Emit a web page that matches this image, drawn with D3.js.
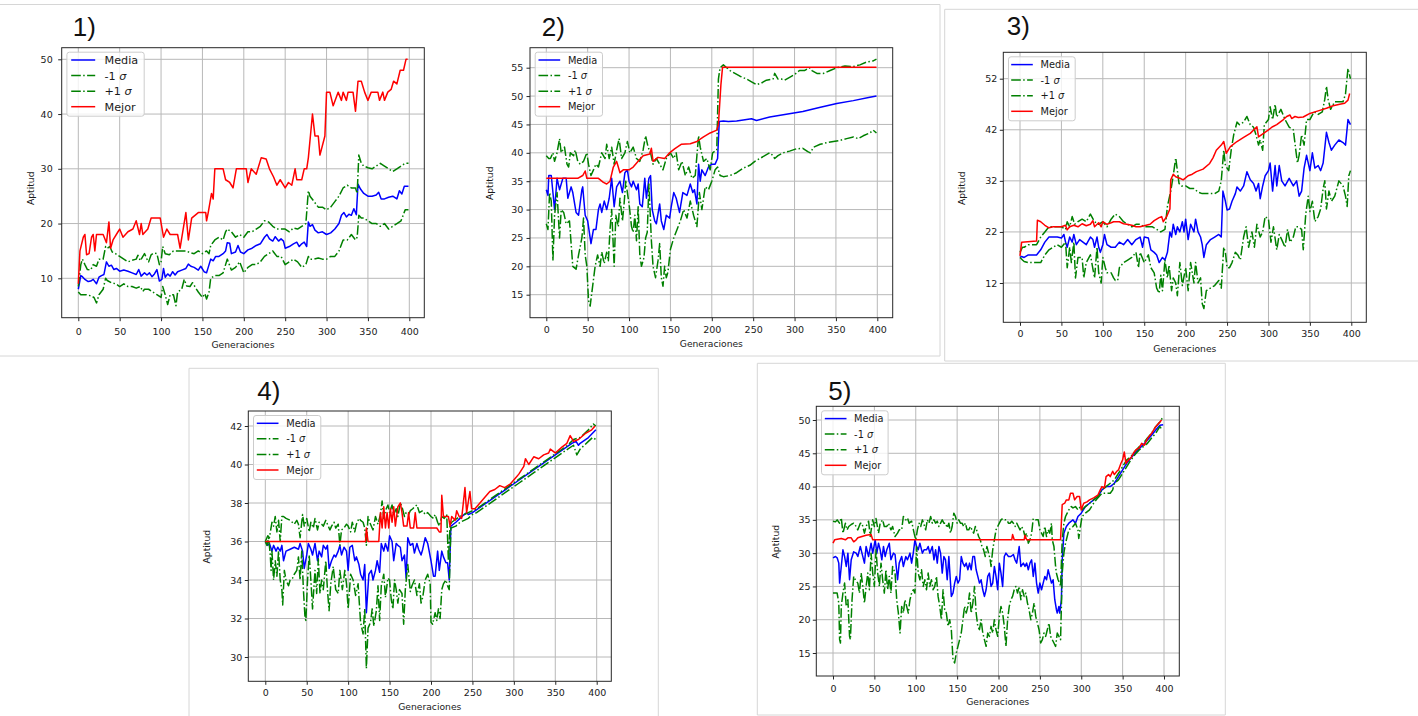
<!DOCTYPE html>
<html><head><meta charset="utf-8">
<script src="https://cdn.jsdelivr.net/npm/d3@7"></script>
<style>body{margin:0;background:#fff;}svg{display:block;}</style>
</head><body>
<svg id="chart" width="1418" height="716"></svg>
<script>
const genTicks = [0,50,100,150,200,250,300,350,400];
const legendLabels = [["Media",""],["-1 ","σ"],["+1 ","σ"],["Mejor",""]];

// ---------- Panel 1 ----------
const p1YTicks = [10,20,30,40,50];
const p1Media = [[0,8],[3,10.5],[5,10.3],[8,9.8],[12,9.4],[15,9.5],[18,9.8],[22,9],[25,10.2],[28,10.5],[31,10.7],[34,13],[37,12.2],[40,12.4],[43,11.6],[46,11.8],[50,11.3],[55,11.5],[60,11.3],[65,11],[70,10.7],[73,11.6],[76,10.4],[80,11],[83,10.6],[86,11],[89,10.3],[92,10.8],[95,11.6],[98,9.5],[101,9.8],[103,11.8],[105,10.2],[108,10.8],[111,10.4],[114,11.2],[117,10.6],[120,11.2],[125,11.5],[130,11.8],[133,12.6],[136,12.2],[140,12],[145,11.5],[148,12.2],[152,11.2],[155,11],[157,12],[160,13.5],[163,13.2],[166,14],[170,14],[175,14.5],[178,15],[180,16.5],[183,16.4],[185,14.5],[190,14.8],[193,16],[196,14.8],[200,14.5],[205,15.2],[210,15.5],[215,16],[220,16.3],[225,17.5],[228,18],[231,17.2],[235,16.8],[238,17.6],[242,16.8],[245,17.2],[248,16.8],[250,15.5],[255,15.8],[260,16.3],[264,16.6],[267,15.8],[270,16.3],[273,16.6],[276,15.8],[278,20.3],[280,19.5],[283,19.8],[286,18.8],[290,18.3],[295,18.5],[300,18],[305,18.3],[310,19],[315,20],[318,21.5],[321,22],[324,21.2],[327,21.7],[330,21.5],[333,22.7],[336,21.6],[338,27.2],[341,26.3],[345,25.5],[350,25],[355,25],[360,25.2],[363,25.7],[366,24.5],[370,24.5],[375,24.8],[380,25],[385,24.5],[388,26],[391,25.4],[394,26.8],[399,26.8]];
const p1Lo = [[0,7.5],[3,7],[6,7],[10,7],[15,6.8],[19,6.5],[22,5.5],[25,7],[30,8],[33,10],[35,9.6],[40,9.2],[45,9],[50,8.5],[55,9],[60,8.5],[65,8.5],[70,8.2],[75,8.5],[78,7.6],[80,8],[85,8],[90,7.5],[95,7],[100,6.5],[102,8.5],[105,7],[108,5.2],[111,7],[115,7],[118,5],[120,7.5],[125,8],[128,9.8],[131,8.6],[135,8.5],[138,9.2],[142,8.2],[145,7.5],[150,6.5],[153,7.2],[155,6.2],[158,7.5],[160,10],[165,10.5],[170,10.5],[175,11],[180,13.5],[185,11.5],[190,12],[195,13],[200,11],[205,12],[210,12.5],[215,12.5],[220,13],[225,14],[230,14.5],[235,15],[240,14],[245,14],[250,12.5],[255,13],[260,13.5],[265,13],[270,12],[275,12.5],[278,14],[280,13.5],[285,13.5],[290,13.7],[295,13.5],[300,13.5],[305,14],[310,14],[315,15],[320,17],[325,17],[330,18],[335,17],[337,17.5],[339,21.5],[342,21],[345,21],[350,20.5],[355,20],[360,20],[365,19.5],[370,20],[375,19],[380,19.5],[385,20],[390,20.5],[395,22.5],[399,22.5]];
const p1Hi = [[0,8.5],[3,12.5],[5,13.5],[8,12.5],[11,11.6],[15,11.5],[18,12.5],[22,12.2],[25,13.5],[30,13.5],[33,15.8],[35,15.5],[38,15.8],[41,14.8],[45,14.5],[50,14],[55,13.5],[60,13],[65,13.3],[70,13.5],[72,14.2],[75,13.2],[78,14],[80,14.5],[83,13.5],[85,13],[88,14.3],[91,14.6],[95,14.5],[98,12.5],[100,13],[102,15.8],[105,14.5],[110,14.3],[115,15],[120,15],[125,15],[130,15],[135,14.7],[140,14.5],[145,15],[150,14.5],[155,15],[158,14.5],[160,16],[165,17],[170,17.5],[175,17],[178,18.5],[180,19],[185,18.5],[190,17.5],[195,18],[200,17.5],[205,18.5],[210,18.5],[215,19],[220,19.5],[225,20.5],[230,20.3],[235,19.5],[240,19],[245,19],[250,19],[255,18.5],[260,19.2],[265,19],[270,19.5],[275,20],[278,26],[280,25],[285,24],[290,23],[295,23],[300,22.5],[305,23],[310,24],[315,25],[320,26.5],[325,27],[330,26.5],[335,26.5],[337,25.5],[339,32.5],[342,31],[345,30.5],[350,30.2],[355,30],[360,30.5],[365,31],[370,30.5],[375,30],[380,29.5],[385,30],[390,30.5],[395,31],[399,31]];
const p1Best = [[0,9],[2,15],[6,17.5],[8,18],[10,14.3],[13,14.5],[16,17.5],[18,18],[20,15],[22,18],[30,18],[34,16.5],[37,20.3],[39,15.5],[42,17],[48,18.5],[50,19],[54,17.5],[60,18.5],[66,19],[70,20.5],[74,18],[76,20],[78,18],[84,19],[88,21],[95,21],[99,21],[103,17.5],[107,19],[111,18],[120,18],[123,15.5],[130,22],[133,17],[137,21],[145,22],[154,22],[155,20.5],[157,22],[161,25.5],[163,24.5],[165,30],[175,30],[178,28],[183,27.5],[187,26.5],[191,30],[203,30],[205,27.5],[209,30],[215,29],[221,32],[227,31.8],[231,30],[236,28.5],[240,27],[244,28],[250,26.5],[254,27.5],[258,27],[262,30],[264,28],[270,28],[273,30],[276,30],[278,32],[283,40],[286,36],[290,36],[292,32.5],[298,36],[300,44],[304,44],[308,41.5],[314,44],[318,42.5],[320,44],[324,42.5],[326,44],[332,44],[335,40.5],[338,46],[342,46],[346,44],[350,42.5],[354,44],[362,44],[364,42.5],[368,44],[370,42.5],[374,44],[378,44.5],[381,46],[385,45.5],[389,48],[393,48],[396,50],[398,50]];

// ---------- Panel 2 ----------
const p2YTicks = [15,20,25,30,35,40,45,50,55];
const p2Media = [[0,33.5],[2,32.5],[3,36],[6,36],[8,33],[10,30],[13,35.5],[16,33.5],[20,35.5],[24,35.5],[26,32],[30,34],[32,33],[36,29.5],[39,29],[43,33.5],[44,34],[47,29],[50,28],[54,24],[57,26.5],[60,26.5],[63,30],[65,31],[67,29.5],[70,31.5],[73,30],[76,32],[79,35.5],[82,30.5],[85,34],[89,35],[92,33],[95,36.5],[98,37],[100,35],[103,34],[105,35],[109,33.5],[111,34.5],[113,31],[116,30.5],[119,35.5],[121,32],[124,35.5],[126,36],[128,30],[131,28],[133,27.5],[137,31],[139,28],[142,26.5],[145,29],[149,28.5],[151,30.5],[154,33],[157,32],[161,29.5],[165,33],[170,32.5],[174,34.5],[177,33],[179,33.5],[182,31],[184,38],[186,35],[188,37],[192,36],[196,37.5],[200,38],[204,38],[207,39],[209,45.5],[214,45.6],[220,45.5],[230,45.6],[248,46],[254,45.7],[270,46.3],[290,46.8],[310,47.3],[330,48],[351,48.7],[371,49.2],[391,49.8],[399,50]];
const p2Lo = [[0,27.5],[2,26.5],[4,33],[6,31.5],[8,21],[10,29],[13,33],[16,25],[18,30],[21,29.5],[24,27.5],[28,28],[32,20],[36,19.5],[39,22],[43,25],[45,28.5],[47,22],[49,20],[51,14],[53,13],[56,16.5],[59,20],[62,22],[65,20],[67,22.5],[70,20.5],[73,22.5],[75,21],[77,26.5],[79,30],[82,20],[84,29],[87,27],[89,32],[92,28],[94,31],[96,35],[100,31],[103,27],[105,26],[107,29],[109,24.5],[111,30.5],[113,22],[115,20],[118,21.5],[120,25],[122,26],[124,34.5],[127,24.5],[129,20],[132,18],[135,21],[137,24],[139,18],[141,16.5],[143,20],[145,18],[147,19],[150,23],[154,25],[158,26.5],[162,28],[166,30],[170,28.5],[174,31.5],[178,29],[182,27],[185,33],[188,30],[192,34],[196,33.5],[200,35],[204,37],[207,37.5],[210,36],[214,35.8],[222,36],[230,36.5],[238,37.3],[246,37.8],[252,38.5],[258,39],[264,39.5],[270,40],[274,39.5],[276,39],[280,39.5],[286,40],[294,40.3],[302,40.7],[310,40.8],[316,40.2],[319,40],[323,41],[331,41.5],[339,41.8],[347,42],[355,42.2],[363,42.5],[371,42.8],[377,42.5],[383,43],[391,43.5],[395,44],[399,43.5]];
const p2Hi = [[0,39.5],[3,39],[5,39],[8,40],[10,38.5],[13,40],[16,42.5],[18,40],[22,41],[25,38],[27,37.5],[29,40],[33,39.5],[35,40.5],[38,38.5],[41,38],[45,38.5],[49,40],[51,38],[54,36],[57,37],[60,38],[63,37.5],[67,40],[71,39],[73,41.5],[76,39],[79,41],[82,38],[85,40.5],[88,42.5],[91,39],[95,40],[98,42],[101,40],[105,41],[109,39],[113,38.5],[117,40.5],[120,43],[123,41],[126,40],[129,38],[133,39],[137,38],[141,37],[145,39],[150,40],[154,39],[157,40],[160,37],[164,38.5],[168,36],[172,37.5],[176,35.5],[180,36],[184,43],[186,41],[190,38.5],[194,39],[198,37],[201,40],[206,40.5],[208,53],[210,55],[214,55.5],[218,55],[222,54.5],[228,54],[234,53.5],[242,53],[248,52.5],[254,52],[260,52.3],[266,52.8],[274,53],[276,54],[280,53],[284,53],[288,52.8],[294,53.3],[300,53.8],[306,54.5],[312,54.5],[318,55],[321,54.5],[327,54],[335,54],[343,54.5],[351,55],[361,55.3],[371,55.2],[379,55.5],[387,56],[395,56.2],[399,56.5]];
const p2Best = [[0,35.5],[38,35.5],[44,36],[47,36.8],[49,35.5],[63,35.5],[69,34.8],[73,34.5],[77,35],[81,37.5],[85,38.5],[87,37.5],[89,36.5],[93,37],[100,37],[105,37.5],[111,38.5],[117,39.5],[125,39.8],[127,40.8],[129,38.5],[135,39.2],[143,39],[149,40],[155,40.7],[163,41.5],[174,41.6],[182,42],[190,42.8],[198,43.5],[206,44],[208,45],[211,52],[213,55.1],[399,55.1]];

// ---------- Panel 3 ----------
const p3YTicks = [12,22,32,42,52];
const p3Media = [[0,17],[2,17.2],[5,17],[10,17.5],[20,17.5],[25,18.5],[30,20],[35,21],[40,21],[45,21],[50,20.8],[53,21.5],[55,20],[57,19],[60,21],[63,20],[65,21.5],[68,19.5],[72,20.5],[76,20],[80,19.5],[85,21],[88,20.5],[90,19],[93,21],[95,19],[97,18],[100,19.5],[102,21.5],[105,19.5],[110,19],[115,19],[120,20],[125,19.5],[130,20.5],[135,19.5],[140,20.5],[145,21],[148,19],[150,21],[155,20.8],[158,18.5],[162,18],[165,17.5],[168,16],[172,17],[175,16.5],[178,18],[181,22],[183,21],[185,23.5],[188,21.5],[190,23],[193,22],[196,24],[198,22],[200,24.5],[203,20.5],[206,23.5],[210,22],[212,24.5],[215,22],[218,21],[220,19.5],[222,17],[225,19.5],[230,20.5],[235,21],[240,21.5],[243,21],[245,30],[248,28],[250,26.3],[253,26.5],[256,28],[260,29.5],[262,30.8],[266,30],[270,31],[274,33.8],[278,32.2],[282,31.5],[285,30],[288,31.5],[290,28.5],[293,31],[296,33],[300,34],[302,35.5],[305,30],[308,35],[310,31],[313,35],[316,32],[320,31],[325,32.5],[330,31],[334,32],[337,29],[340,30],[343,34.5],[346,37],[350,34],[353,37.5],[356,34.5],[360,35],[363,34],[366,35.5],[370,41.5],[373,39.5],[376,38],[380,39],[385,40],[390,39.5],[393,39],[396,44],[399,43]];
const p3Lo = [[0,17],[3,16.5],[5,16.2],[10,16],[15,16],[20,16],[25,16],[30,17.5],[35,18.5],[40,19],[45,19.5],[50,19],[55,20],[57,15],[60,19],[62,16],[65,20],[67,13],[70,17],[75,17],[77,13],[80,16],[85,17.5],[90,13],[93,19],[95,14],[98,12],[100,17],[103,15],[105,14],[110,14],[113,13],[115,12.5],[118,12.5],[120,15],[125,16],[130,16.5],[135,17],[140,18],[143,15],[145,18],[150,16],[155,17.5],[158,15],[162,14],[165,11],[168,10],[170,13.5],[172,10.5],[175,16.5],[178,13],[180,15.5],[183,10.5],[185,13],[188,12],[190,9.5],[193,16],[196,11.5],[200,15],[203,10.5],[206,16],[210,12],[212,16],[215,12],[218,13],[220,8],[222,7],[225,10.5],[230,11],[235,11.5],[240,12.5],[243,11],[246,19],[248,18],[250,15],[253,15],[256,16],[260,18],[263,17.5],[266,16.5],[270,21],[273,23],[276,19],[280,22],[283,19],[286,23.5],[290,21],[293,22],[296,25],[300,24.5],[303,20],[306,23],[310,18.5],[313,21.5],[316,20.5],[320,19],[323,22.5],[326,20],[330,21],[333,23],[336,23],[340,22.5],[342,18.5],[345,25.5],[348,29],[350,26],[353,28],[356,24],[360,25],[363,26.5],[366,30.5],[368,32],[370,26.5],[373,30],[376,28],[380,29],[385,32],[390,31],[393,29],[395,27],[397,33],[399,34]];
const p3Hi = [[0,18],[3,19],[5,19],[10,19.5],[20,19.5],[25,21],[30,22],[35,23],[40,23],[50,23],[55,22.5],[57,24],[60,23],[63,25],[66,23.5],[70,24],[75,24.5],[80,24],[85,25.5],[90,24],[95,23.5],[100,24],[105,23],[110,24.5],[115,25.5],[120,25],[125,24],[130,23.5],[135,23],[140,23.5],[145,23.5],[150,23],[155,23],[160,23],[165,22.5],[170,22],[175,22.5],[178,27],[182,30],[185,33],[188,36.5],[190,34],[192,31.5],[195,31],[200,31],[205,30.5],[210,30.5],[215,29.8],[220,29.5],[225,29.5],[230,29.5],[235,29.5],[240,30],[243,32],[246,38],[248,35],[252,34],[255,38],[258,41],[262,43.5],[265,43],[270,43.5],[274,44.6],[278,43],[282,42.5],[285,41],[288,39],[290,40],[293,38],[295,43],[300,44],[302,46.5],[305,44],[308,47],[310,44.5],[315,46],[320,44],[325,42.5],[330,42],[333,38],[335,35.5],[337,37],[340,41],[343,39],[346,44],[350,44],[355,45.5],[360,45],[365,45.5],[368,48],[370,50.5],[372,48],[375,46],[380,47.5],[385,47.5],[390,47.5],[393,49],[396,54],[399,52]];
const p3Best = [[0,17.3],[2,20],[20,20.2],[21,24.3],[25,24],[30,23.3],[35,22.8],[40,23],[50,23],[55,23.3],[57,22.4],[60,23],[65,23.3],[70,23],[75,23.6],[80,23.2],[85,23.5],[88,24.2],[90,23],[95,23.8],[98,23],[100,24],[105,23.5],[110,23.8],[113,24],[120,24],[125,23.6],[129,23.5],[135,23.3],[140,23],[145,23],[150,23.2],[157,23.5],[162,24.2],[165,24.5],[168,24.8],[171,25],[173,24],[177,25],[181,26.5],[182,32.2],[185,33.3],[188,32.8],[193,32.5],[197,32.2],[203,33],[208,33.3],[213,33.8],[221,34.3],[229,35.4],[233,36.5],[237,38],[243,39],[246,39.7],[249,37.4],[254,38.7],[262,39.7],[270,40.5],[278,41.3],[286,42.6],[288,40.6],[294,41.3],[300,42],[305,42.6],[310,43],[314,43.5],[318,44],[322,44.6],[326,44.9],[328,44.2],[332,44.6],[336,44.4],[342,44.5],[350,45.2],[356,45.5],[362,45.8],[370,46.2],[378,46.7],[386,47],[392,47.2],[396,47.8],[398,49.1]];

// ---------- Panel 4 ----------
const p4YTicks = [30,32,34,36,38,40,42];
const p4Media = [[0,36],[3,35.8],[5,35.9],[8,35.5],[10,35.8],[13,35.5],[15,35.7],[18,35.5],[20,35.8],[22,35],[25,35.5],[30,35.6],[35,35.7],[40,35.6],[42,35.9],[45,35.5],[47,34.6],[50,35.3],[52,35.9],[55,35.6],[57,35.3],[60,35.9],[63,35],[65,35.5],[68,35.2],[70,35.8],[73,35.6],[75,35.8],[77,34.6],[80,35],[83,35.3],[85,35.2],[88,35.5],[90,35.8],[92,35.3],[95,35.7],[98,35.5],[100,34.5],[102,35.7],[105,35.8],[108,35],[110,35.2],[113,34.8],[115,34.3],[118,34],[120,34.8],[122,32.3],[125,34.3],[128,34.5],[130,34],[133,34.5],[135,35],[138,34.4],[140,35.9],[143,35.5],[145,35.9],[148,35.5],[150,36.3],[153,36],[155,35],[158,35.9],[160,35.8],[163,35.7],[165,35],[168,35.3],[170,34.1],[172,36.2],[175,35.8],[178,35.9],[180,35.4],[183,35.9],[185,35.6],[188,35.3],[190,35.6],[193,36.2],[196,35.9],[200,35],[203,34.2],[205,34.2],[208,35.5],[210,34.5],[213,35.5],[215,35.2],[218,34.9],[220,34.9],[222,34],[224,36.8],[230,37],[235,37.2],[240,37.4],[243,37.5],[245,37.4],[250,37.5],[260,37.8],[270,38.1],[280,38.4],[290,38.7],[300,39],[310,39.3],[320,39.6],[330,39.9],[340,40.2],[350,40.5],[360,40.8],[370,41.1],[375,41.2],[378,41],[380,41.1],[390,41.4],[399,41.8]];
const p4Lo = [[0,36],[2,35.8],[4,36.2],[6,35.3],[7,34.5],[8,35.5],[10,34],[12,35],[14,34.2],[16,35.5],[18,34],[20,33.5],[21,32.7],[23,34.5],[25,34],[28,33.7],[30,34],[33,34.1],[35,34.3],[38,34.5],[40,35.2],[42,34],[44,35.5],[46,33.5],[48,32],[49,31.9],[51,34],[53,35.3],[55,34],[57,32.5],[60,34.5],[62,33.3],[64,35.1],[66,33.3],[68,34],[70,33.5],[73,35],[75,33.5],[77,32.4],[79,33.8],[82,34.7],[85,33.5],[88,33.3],[90,34.5],[93,33.5],[96,34.5],[98,33.8],[100,32.5],[103,34.3],[106,34],[109,33.2],[112,33.8],[115,31.8],[118,31.2],[120,32.5],[122,29.4],[124,31.5],[127,31.8],[129,32.5],[131,31.6],[134,32.4],[136,33.7],[138,31.9],[140,33.7],[143,34.3],[145,33.1],[148,34.1],[150,34],[152,33],[154,32.5],[156,34],[158,33.5],[160,32.8],[162,33.5],[165,33.3],[167,31.7],[169,33.5],[172,34.8],[175,33.4],[177,33.7],[180,34],[183,33.2],[186,33.8],[188,32.8],[190,33.1],[193,34],[196,34.3],[199,33.8],[200,31.8],[202,31.7],[205,32.3],[207,31.9],[209,32.5],[211,32],[213,33.5],[215,33.8],[218,34],[220,33.7],[222,33.5],[224,36.7],[230,36.8],[235,37],[240,37.1],[245,37.2],[250,37.4],[255,37.5],[265,37.8],[275,38.1],[285,38.4],[295,38.7],[305,39],[315,39.3],[325,39.6],[335,39.9],[345,40.2],[355,40.5],[365,40.8],[372,41],[376,40.5],[380,40.8],[390,41.2],[395,41.4],[399,41.3]];
const p4Hi = [[0,36],[3,36.3],[5,36.2],[8,37],[10,36.8],[12,37.3],[14,36.5],[16,37.1],[18,36],[20,37.3],[22,37.3],[25,37.2],[30,37.1],[35,36.9],[38,37.1],[40,36.9],[42,36.2],[45,37.4],[47,36.8],[50,37.2],[53,36.5],[55,37],[58,36.7],[60,37.2],[63,36.6],[65,37],[68,36.9],[70,36.8],[73,37.1],[75,36.9],[78,36.6],[80,36.8],[83,37],[85,36.7],[88,36.9],[90,35.8],[92,36.6],[95,36.7],[98,36.9],[100,36.8],[103,36.5],[105,37],[108,36.5],[110,36.9],[113,37.2],[115,37.1],[118,37],[120,36.7],[122,35.8],[124,37.3],[126,37],[130,36.6],[133,37.3],[136,36.9],[139,37.4],[141,38.1],[143,37.2],[145,37.6],[148,37.9],[150,37.5],[153,37.9],[155,37.4],[158,37.7],[160,37.3],[163,38],[165,37.8],[168,37.3],[170,37.5],[173,37.4],[175,37.6],[178,37.7],[180,37.8],[183,37.9],[186,37.5],[190,37.6],[193,37.4],[196,37.5],[200,37.3],[203,37.2],[205,37.4],[208,37],[210,36.8],[213,37.3],[216,37.2],[219,37.4],[221,35],[223,36.8],[225,37],[235,37.3],[245,37.5],[255,37.7],[265,38],[275,38.3],[285,38.6],[295,38.9],[305,39.2],[315,39.5],[325,39.8],[335,40.1],[345,40.4],[355,40.7],[365,41],[372,41.3],[380,41.4],[390,41.8],[396,42.1],[399,42]];
const p4Best = [[0,36],[121,36],[122,36.7],[124,36],[137,36],[139,37.5],[141,36.7],[143,37.8],[145,36.7],[147,37.5],[149,36.7],[151,37.7],[153,37],[155,37.8],[157,36.8],[160,37.8],[163,38],[165,37.5],[167,36.8],[171,36.8],[173,37.5],[175,36.7],[179,36.7],[181,37.5],[183,36.7],[207,36.7],[210,36.5],[212,36.5],[213,38.4],[215,37.3],[221,37.3],[223,36.8],[225,37.3],[229,37.1],[231,37.6],[234,37.3],[237,37.2],[241,38.8],[243,37.5],[247,38.6],[249,37.7],[253,37.7],[257,37.9],[265,38.3],[271,38.6],[277,38.7],[283,38.9],[289,38.8],[296,39],[302,39.3],[306,39.5],[312,39.9],[314,40.3],[318,40],[324,40.4],[330,40.3],[336,40.5],[342,40.6],[344,40.8],[350,40.6],[358,40.9],[364,41.1],[368,41.5],[372,41.2],[378,41.3],[386,41.6],[394,41.8],[398,42]];

// ---------- Panel 5 ----------
const p5YTicks = [15,20,25,30,35,40,45,50];
const p5Media = [[0,29.3],[3,29.5],[5,29.3],[7,28.5],[8,25.5],[10,28],[12,30.5],[14,29.5],[16,28],[18,30],[20,26],[22,29],[25,30.2],[28,30],[30,29.5],[33,31],[35,30],[38,28.5],[40,31],[43,29.5],[46,31.5],[48,30],[51,32],[53,30],[55,31.5],[57,30.5],[59,29],[61,31],[63,29.5],[65,30.5],[68,31.5],[70,29],[73,30],[75,29.8],[78,26],[80,28.5],[83,29.5],[85,28],[88,29.5],[90,29],[93,30],[95,28.5],[97,30],[99,32],[101,31],[103,30.5],[105,31.5],[108,30],[110,30.5],[113,30.5],[115,31],[117,30],[120,31],[122,29],[124,30.5],[126,28.5],[128,31],[130,30],[132,27],[134,29.5],[136,29],[138,26],[140,29.5],[142,25.5],[143,23.5],[145,24],[147,25.5],[149,26.5],[151,25.5],[153,26],[155,29.5],[157,28.5],[159,28],[161,28.5],[163,27.5],[165,28.5],[167,27.5],[169,29.5],[171,29.5],[173,27.5],[175,26.5],[177,25.5],[179,26],[181,24.5],[183,23.5],[185,24.5],[187,26.5],[189,27],[191,25],[193,25.5],[195,28],[197,26.5],[199,24.5],[201,28.5],[203,27],[205,25],[207,29.5],[209,30],[212,29.5],[215,29.5],[218,29.8],[220,29],[222,28.5],[225,31],[227,28],[230,28.5],[232,28],[234,28.5],[236,27.5],[238,28.5],[240,29],[242,26.5],[244,28.5],[246,25.5],[248,24],[250,25.5],[252,24.5],[254,25.5],[256,26.5],[258,26],[260,27.5],[262,26.5],[264,25.5],[266,26],[268,23],[270,21.5],[271,21],[273,22],[274,21],[276,23],[277,29],[279,33],[282,34],[285,34.5],[290,35],[293,34.5],[296,35.5],[300,36],[305,37],[310,37.5],[315,38],[320,38.5],[325,39.5],[330,40],[335,40],[340,40.5],[345,41.5],[350,42.5],[355,43.5],[360,44.3],[365,45],[370,45.7],[375,46.3],[380,47],[385,47.7],[390,48.5],[395,49.2],[399,49.3]];
const p5Lo = [[0,24],[3,24],[5,24],[7,22.5],[8,17],[9,16.5],[10,22],[12,24],[14,25.5],[16,22],[18,23],[20,17.5],[21,17],[23,23],[25,26.5],[27,26],[30,25.5],[32,24],[34,27],[36,25],[38,22.5],[40,25],[42,27],[44,24.5],[46,30],[48,27],[50,25],[52,30.5],[54,27],[56,25],[58,28.5],[60,26],[62,24],[64,27.5],[66,24.5],[68,26.5],[70,24],[72,28],[75,27],[77,23],[79,21],[81,18],[83,22],[85,21],[87,23],[89,22],[91,21],[93,23],[95,24],[97,24.5],[99,24],[101,31],[103,27],[105,26],[107,27.5],[109,25],[111,26],[113,24.5],[115,27],[117,25],[119,26],[121,24.5],[123,25],[125,26.5],[127,23.5],[129,22],[131,20],[133,24.5],[135,21.5],[137,21],[139,19],[141,20],[143,18.5],[145,14],[147,13.5],[149,15],[151,16],[153,17],[155,18],[157,20],[159,22],[161,21],[163,22],[165,24],[167,21],[169,22.5],[171,25],[173,21],[175,19],[177,18.5],[179,20],[181,18],[183,17],[185,16],[187,18],[189,17.5],[191,19],[193,18],[195,20],[197,18.5],[199,17.5],[201,20.5],[203,22],[205,21],[207,19],[209,16],[211,20],[213,22],[215,23],[217,23.5],[219,24.5],[221,25],[223,24],[225,25],[227,23],[229,24.5],[231,23.5],[233,24],[235,22.5],[237,21.5],[239,20],[241,21],[243,22.5],[245,20.5],[247,19.5],[249,18.5],[251,16.5],[253,17],[255,18],[257,17.5],[259,18.5],[261,19.5],[263,17.5],[265,17],[267,16.5],[269,16],[271,18],[273,17.5],[275,17],[277,27],[279,30],[281,31.5],[283,32.5],[285,33.5],[288,33.8],[290,34],[293,34.5],[296,33.5],[297,32.2],[299,34],[301,35.5],[305,36],[310,36.5],[315,37.5],[320,38.3],[325,39],[330,39],[335,39],[338,39.5],[340,40.5],[345,41],[350,42],[355,43],[360,44],[365,44.8],[370,45.5],[375,46],[380,46.5],[385,47.3],[390,48],[395,49],[398,48.5]];
const p5Hi = [[0,34.8],[3,34.7],[5,35],[8,34.5],[10,35.3],[12,33],[15,34.5],[17,33.5],[19,34],[22,34.3],[25,34.5],[28,34],[30,33.5],[33,34.5],[35,34.5],[38,33],[40,34],[43,34.8],[45,32.5],[48,35],[50,34],[52,35.2],[55,33],[57,34.5],[60,35],[62,34],[65,34],[67,34.5],[70,33.5],[72,34],[75,32.5],[78,33],[80,33.5],[83,33.5],[85,35.5],[88,35],[90,35.3],[92,34.5],[95,34.8],[98,33],[100,32],[102,33.5],[104,34.5],[106,34],[108,35],[110,34.3],[112,33.5],[114,35],[116,34.5],[118,35.5],[120,34.5],[122,35],[124,34.5],[126,34.8],[128,34],[130,34.5],[132,35],[134,34.5],[136,34.5],[138,33.8],[140,34.5],[142,33],[144,34],[146,36],[148,35.5],[150,34.5],[152,35],[154,34.5],[156,34.5],[158,34],[160,34.5],[162,33.5],[164,33.5],[166,34],[168,33.5],[170,33],[172,34],[174,33.3],[176,32.5],[178,32],[180,31],[182,30.5],[184,29.5],[186,31],[188,30],[190,29],[191,28],[193,30.5],[195,32],[197,33.5],[199,34],[201,34.5],[203,35],[205,35.2],[208,35],[210,35],[212,34.5],[214,34.5],[216,34.8],[218,34.5],[220,34],[222,34.5],[224,34],[226,33.5],[228,34],[230,33.5],[232,32.5],[234,33],[236,31.5],[238,32],[240,33],[242,35.2],[245,35],[248,35],[250,33.5],[252,33],[254,32.5],[256,34],[258,32.5],[260,33.5],[262,33],[264,34.5],[265,32],[267,31],[269,28],[270,27],[272,26],[274,25.5],[275,25],[277,32],[279,34.5],[281,35.5],[283,36],[285,36.5],[288,37],[290,36.8],[293,37],[296,36.5],[299,37],[301,36.5],[305,37],[310,37.5],[315,38],[320,38.5],[325,39.5],[330,40],[335,40.5],[340,41],[345,42],[350,43],[355,44],[360,44.5],[365,45.3],[370,46],[375,46.5],[380,47.3],[385,48],[390,49],[395,49.7],[398,50.3]];
const p5Best = [[0,31.5],[2,32],[10,32.2],[15,32],[18,32.3],[22,32.3],[25,31.7],[28,32],[30,32.3],[35,32.5],[40,32.7],[46,32.8],[48,32],[216,32],[217,32.8],[219,32],[231,32],[232,32.7],[234,32],[275,32],[277,37.3],[280,37.5],[282,38],[285,38],[287,39],[290,39],[292,38],[295,38.5],[298,38.5],[300,36.5],[303,37.5],[307,37.7],[310,38],[315,38.3],[320,38.7],[323,39.5],[325,40],[328,39.8],[330,41.5],[333,41.8],[335,41.5],[338,42.3],[340,41.8],[343,42.3],[345,42.5],[348,43.5],[350,44],[352,45.2],[354,43.5],[357,44],[360,44.3],[363,45],[366,45.5],[370,45.8],[373,46.5],[376,46.2],[380,47.2],[385,48],[390,49],[395,49.7],[397,50]];

// ---------- layout (positions only) ----------
const panels = [
  {label:"1)", lx:72.7, ly:36, media:p1Media, lo:p1Lo, hi:p1Hi, best:p1Best, yTicks:p1YTicks,
   box:{l:61.7,r:424.3,t:47.7,b:317.7}, xr:[78.3,409.3], yd:[10,50], yr:[278.3,59.3],
   xPad:7, yPad:5.5, xlab:30.6, ylabX:34, ylabY:188.3, leg:{w:77.3, fs:11.2, tx:37.6, sx:[4.3,28.3]}},
  {label:"2)", lx:541.7, ly:36, media:p2Media, lo:p2Lo, hi:p2Hi, best:p2Best, yTicks:p2YTicks,
   box:{l:530,r:892.7,t:47.7,b:317.7}, xr:[546.3,877.3], yd:[15,55], yr:[294.7,67.7],
   xPad:5.5, yPad:3.2, xlab:29.6, ylabX:492.5, ylabY:183.3, leg:{w:67.3, fs:9.8, tx:32.7, sx:[3.3,25]}},
  {label:"3)", lx:1006.7, ly:35.3, media:p3Media, lo:p3Lo, hi:p3Hi, best:p3Best, yTicks:p3YTicks,
   box:{l:1003.3,r:1366.3,t:52.3,b:322.3}, xr:[1020,1351.3], yd:[12,52], yr:[283,78.7],
   xPad:4.2, yPad:2.5, xlab:29.4, ylabX:965, ylabY:188.3, leg:{w:66.7, fs:9.8, tx:32, sx:[2.7,24.3]}},
  {label:"4)", lx:257.3, ly:400.3, media:p4Media, lo:p4Lo, hi:p4Hi, best:p4Best, yTicks:p4YTicks,
   box:{l:248.3,r:611.3,t:411,b:681.3}, xr:[265.3,596.7], yd:[30,42], yr:[657,426],
   xPad:4.2, yPad:2.5, xlab:28.7, ylabX:210, ylabY:546.7, leg:{w:67.3, fs:9.8, tx:32.7, sx:[3.3,25]}},
  {label:"5)", lx:828.3, ly:399.5, media:p5Media, lo:p5Lo, hi:p5Hi, best:p5Best, yTicks:p5YTicks,
   box:{l:816.3,r:1179.3,t:406.3,b:676}, xr:[833,1164], yd:[15,50], yr:[653,420],
   xPad:5.5, yPad:2.2, xlab:29, ylabX:778.5, ylabY:541.7, leg:{w:66.6, fs:9.8, tx:32.6, sx:[3.3,25]}}
];

const frameLines = [
  [0,4.5,940,4.5],[940,4.5,940,356],[0,356,940,356],
  [944.7,9.3,1418,9.3],[944.7,9.3,944.7,361],[944.7,361,1418,361],
  [189,368.3,658.3,368.3],[189,368.3,189,716],[658.3,368.3,658.3,716],
  [757.3,363.3,1225.3,363.3],[757.3,363.3,757.3,715],[1225.3,363.3,1225.3,715],[757.3,715,1225.3,715]
];

const svg = d3.select("#chart");
svg.append("rect").attr("width",1418).attr("height",716).attr("fill","#fff");
svg.append("g").selectAll("line").data(frameLines).join("line")
  .attr("x1",d=>d[0]).attr("y1",d=>d[1]).attr("x2",d=>d[2]).attr("y2",d=>d[3])
  .attr("stroke","#d6d6d6").attr("stroke-width",1);

const FONT = "'DejaVu Sans', sans-serif";
const DASH = "9.6,2.4,1.5,2.4";
const GREEN = "#008000";
const LW = 1.5;

panels.forEach(p => {
  const g = svg.append("g");
  const {l,r,t,b} = p.box;
  const x = d3.scaleLinear().domain([0,400]).range(p.xr);
  const y = d3.scaleLinear().domain(p.yd).range(p.yr);

  g.append("text").attr("x",p.lx).attr("y",p.ly).text(p.label)
    .attr("font-family","'Liberation Sans', Arial, sans-serif").attr("font-size",26).attr("fill","#111");

  g.append("g").selectAll("line").data(genTicks).join("line")
    .attr("x1",d=>x(d)).attr("x2",d=>x(d)).attr("y1",t).attr("y2",b)
    .attr("stroke","#b8b8b8").attr("stroke-width",1);
  g.append("g").selectAll("line").data(p.yTicks).join("line")
    .attr("x1",l).attr("x2",r).attr("y1",d=>y(d)).attr("y2",d=>y(d))
    .attr("stroke","#b8b8b8").attr("stroke-width",1);

  const line = d3.line().x(d=>x(d[0])).y(d=>y(d[1]));
  const series = [
    {data:p.media, color:"#0000ff", dash:null},
    {data:p.lo, color:GREEN, dash:DASH},
    {data:p.hi, color:GREEN, dash:DASH},
    {data:p.best, color:"#ff0000", dash:null}
  ];
  series.forEach(s => {
    g.append("path").datum(s.data).attr("d",line).attr("fill","none")
      .attr("stroke",s.color).attr("stroke-width",LW).attr("stroke-linejoin","round")
      .attr("stroke-dasharray",s.dash);
  });

  g.append("rect").attr("x",l).attr("y",t).attr("width",r-l).attr("height",b-t)
    .attr("fill","none").attr("stroke","#262626").attr("stroke-width",1);

  const xa = g.append("g").attr("transform",`translate(0,${b})`)
    .call(d3.axisBottom(x).tickValues(genTicks).tickSize(3.5).tickPadding(p.xPad).tickSizeOuter(0));
  const ya = g.append("g").attr("transform",`translate(${l},0)`)
    .call(d3.axisLeft(y).tickValues(p.yTicks).tickSize(3.5).tickPadding(p.yPad).tickSizeOuter(0));
  [xa,ya].forEach(a => {
    a.select(".domain").remove();
    a.selectAll("line").attr("stroke","#262626");
    a.selectAll("text").attr("font-family",FONT).attr("font-size",9.5).attr("fill","#1a1a1a");
  });

  g.append("text").attr("x",(l+r)/2).attr("y",b+p.xlab).attr("text-anchor","middle")
    .attr("font-family",FONT).attr("font-size",9.2).attr("fill","#1a1a1a").text("Generaciones");
  g.append("text").attr("transform",`translate(${p.ylabX},${p.ylabY}) rotate(-90)`).attr("text-anchor","middle")
    .attr("font-family",FONT).attr("font-size",9.2).attr("fill","#1a1a1a").text("Aptitud");

  const lg = p.leg;
  const L0 = l + 5.2, T0 = t + 4.5;
  const leg = g.append("g").attr("transform",`translate(${L0},${T0})`);
  leg.append("rect").attr("x",0).attr("y",0).attr("width",lg.w).attr("height",64)
    .attr("rx",2.5).attr("fill","#fff").attr("fill-opacity",0.8).attr("stroke","#cccccc").attr("stroke-width",1);
  const rows = [7.8, 23.3, 39, 54.5];
  series.forEach((s,i) => {
    leg.append("line").attr("x1",lg.sx[0]).attr("x2",lg.sx[1]).attr("y1",rows[i]).attr("y2",rows[i])
      .attr("stroke",s.color).attr("stroke-width",LW).attr("stroke-dasharray",s.dash);
    const tx = leg.append("text").attr("x",lg.tx).attr("y",rows[i]).attr("dy","0.36em")
      .attr("font-family",FONT).attr("font-size",lg.fs).attr("fill","#1a1a1a");
    tx.append("tspan").text(legendLabels[i][0]);
    if (legendLabels[i][1]) tx.append("tspan").attr("font-style","italic").text(legendLabels[i][1]);
  });
});
</script>
</body></html>
